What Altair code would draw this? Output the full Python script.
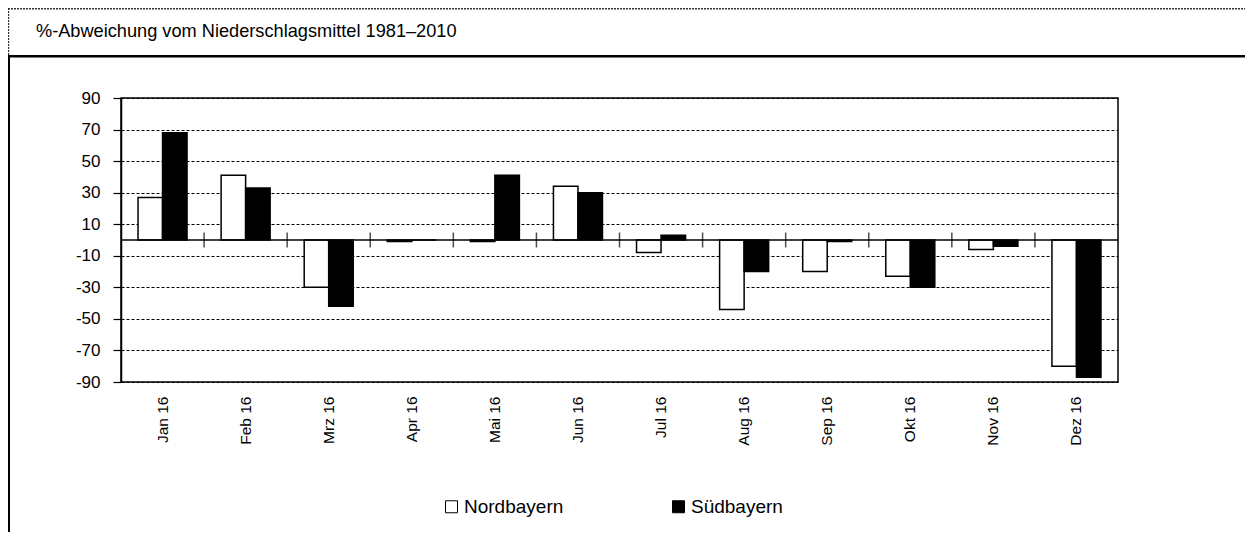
import altair as alt
import pandas as pd

months = ["Jan 16", "Feb 16", "Mrz 16", "Apr 16", "Mai 16", "Jun 16",
          "Jul 16", "Aug 16", "Sep 16", "Okt 16", "Nov 16", "Dez 16"]
series = ["Nordbayern", "Südbayern"]
nord = [27, 41, -30, -1, -1, 34, -8, -44, -20, -23, -6, -80]
sued = [68, 33, -42, 0, 41, 30, 3, -20, -1, -30, -4, -87]
y_ticks = [-90, -70, -50, -30, -10, 10, 30, 50, 70, 90]
title_text = "%-Abweichung vom Niederschlagsmittel 1981\u20132010"

FONT = "Liberation Sans"

rows = []
for m, n, s in zip(months, nord, sued):
    rows.append({"month": m, "series": series[0], "value": n})
    rows.append({"month": m, "series": series[1], "value": s})
df = pd.DataFrame(rows)

xscale = alt.Scale(domain=months, paddingInner=0, paddingOuter=0)
yscale = alt.Scale(domain=[-90, 90], nice=False, zero=False)

x_axis = alt.Axis(title=None, labelAngle=-90, ticks=False, domain=False,
                  labelPadding=14, labelFontSize=15.5, labelFont=FONT,
                  labelColor="black", grid=False, labelOverlap=False)
y_axis = alt.Axis(title=None, values=y_ticks, tickCount=20, grid=True, gridDash=[3, 2],
                  gridColor="black", gridWidth=1, gridOpacity=1,
                  domainColor="black", domainWidth=1.5, tickColor="black",
                  tickSize=8, tickWidth=1.2, labelPadding=13, labelFontSize=17,
                  labelFont=FONT, labelColor="black", labelOverlap=False,
                  labelExpr="'' + datum.value")

bars = alt.Chart(df).mark_bar(stroke="black", strokeWidth=1.5).encode(
    x=alt.X("month:N", scale=xscale, sort=months, axis=x_axis),
    xOffset=alt.XOffset("series:N", scale=alt.Scale(domain=series, paddingOuter=0.695, paddingInner=0)),
    y=alt.Y("value:Q", scale=yscale, axis=y_axis),
    color=alt.Color("series:N", scale=alt.Scale(domain=series, range=["white", "black"]),
                    legend=alt.Legend(title=None, orient="none", legendX=321, legendY=399,
                                      direction="horizontal", symbolType="square",
                                      symbolSize=144, symbolStrokeColor="black",
                                      symbolStrokeWidth=1, labelFontSize=19, labelFont=FONT,
                                      labelColor="black", columnPadding=105, padding=0,
                                      labelOffset=3)),
)

zero_df = pd.DataFrame({"v": [0]})
zero_line = alt.Chart(zero_df).mark_rule(color="black", strokeWidth=1.5).encode(
    y=alt.Y("v:Q", scale=yscale, axis=y_axis)
)

tick_df = pd.DataFrame({"month": months[1:], "v": [0] * (len(months) - 1)})
ticks = alt.Chart(tick_df).mark_tick(orient="vertical", size=15, thickness=1.5, color="black").encode(
    x=alt.X("month:N", scale=xscale, bandPosition=0, sort=months, axis=x_axis),
    y=alt.Y("v:Q", scale=yscale, axis=y_axis),
)

one = pd.DataFrame({"t": [title_text]})
title = alt.Chart(one).mark_text(align="left", baseline="alphabetic", fontSize=18.2,
                                 font=FONT, color="black").encode(
    x=alt.value(-85), y=alt.value(-61), text="t:N"
)

dotted_top = alt.Chart(one).mark_rule(color="#333", strokeWidth=1.4, strokeDash=[2, 1]).encode(
    x=alt.value(-113), x2=alt.value(1130), y=alt.value(-89.3)
)
dotted_left = alt.Chart(one).mark_rule(color="#333", strokeWidth=1.4, strokeDash=[2, 1]).encode(
    x=alt.value(-112.5), y=alt.value(-90), y2=alt.value(-42)
)
solid_top = alt.Chart(one).mark_rule(color="black", strokeWidth=2.5).encode(
    x=alt.value(-113), x2=alt.value(1130), y=alt.value(-41.8)
)
solid_left = alt.Chart(one).mark_rule(color="black", strokeWidth=2).encode(
    x=alt.value(-112), y=alt.value(-42), y2=alt.value(450)
)

chart = alt.layer(
    bars, zero_line, ticks, title, dotted_top, dotted_left, solid_top, solid_left
).properties(
    width=997, height=284,
    autosize=alt.AutoSizeParams(type="none"),
    padding={"left": 113, "top": 90, "right": 127, "bottom": 150},
).configure(
    background="white",
    view=alt.ViewConfig(stroke="black", strokeWidth=1.5),
)

chart.save("out.html", embed_options={"renderer": "svg", "actions": False})
